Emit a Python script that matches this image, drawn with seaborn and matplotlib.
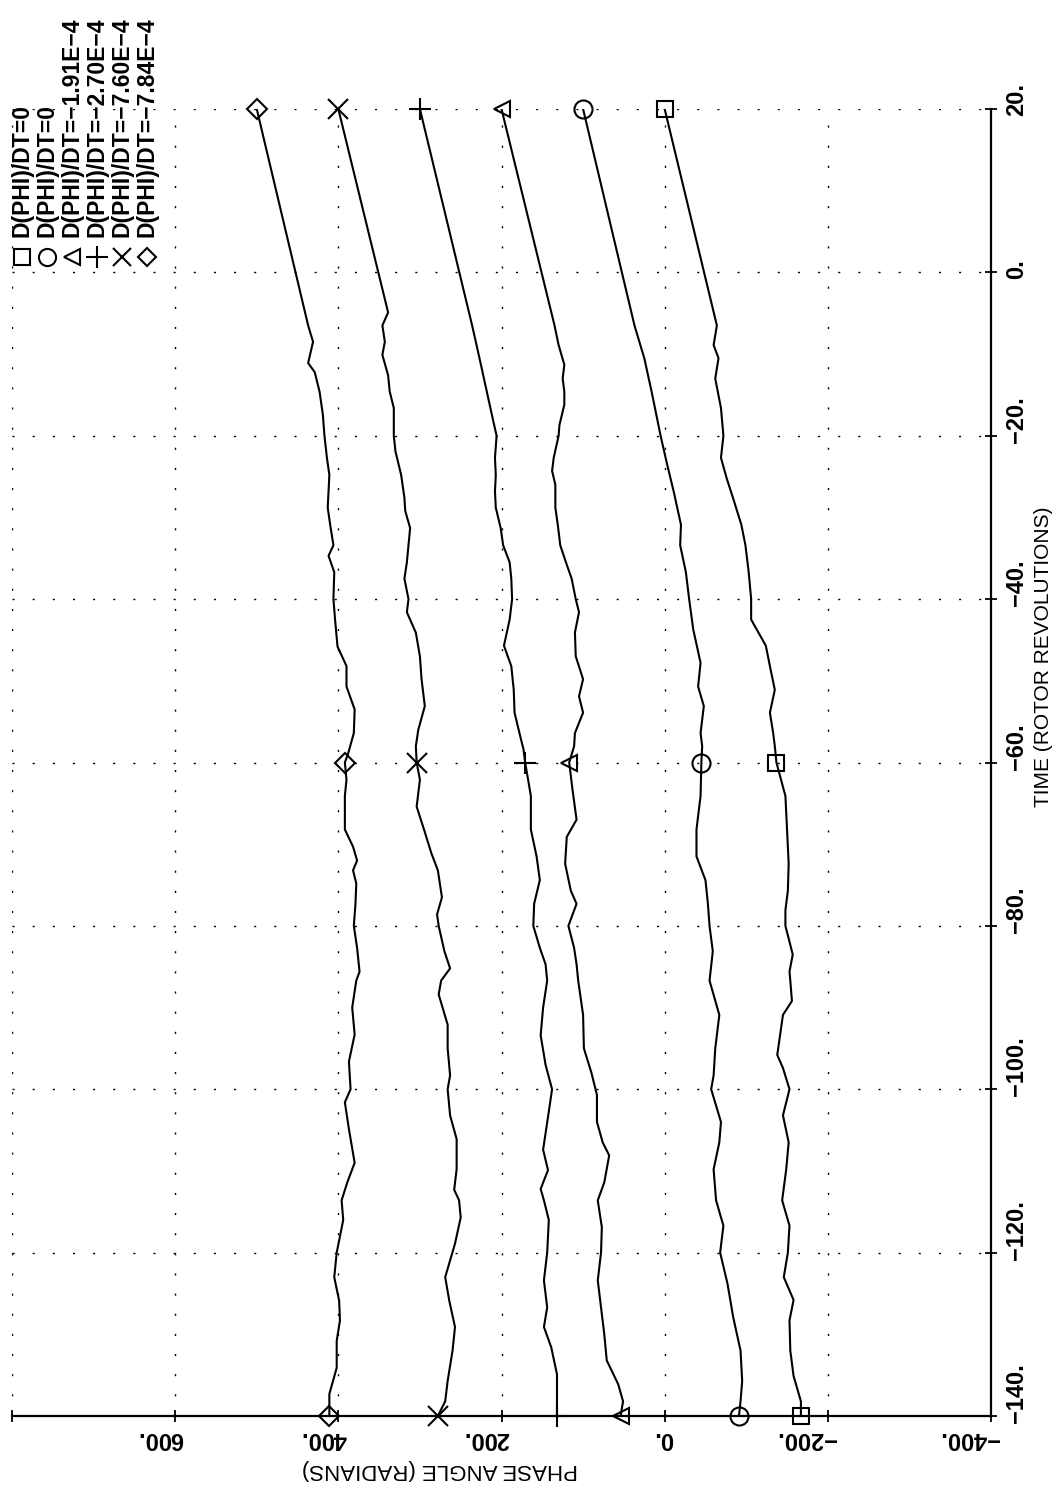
import matplotlib
matplotlib.use("Agg")
import matplotlib.pyplot as plt
import numpy as np
import pandas as pd
import seaborn as sns
from matplotlib.transforms import ScaledTranslation

# ---- phase-angle histories (time in rotor revolutions, phase in radians) ----
t_sq = [-140, -138.2, -135.1, -132, -128.3, -125.8, -123, -120, -116.7, -113.6,
        -109.8, -106.5, -103.2, -100, -97.4, -95.8, -90.9, -89.2, -86.7, -85.6,
        -83.5, -80, -78.1, -75.7, -72.4, -68.2, -64.1, -60, -58, -56.4, -53.9,
        -51.1, -48.2, -45.7, -42.5, -40, -36.7, -33.4, -30.9, -28, -25.2, -22.7,
        -20, -16.6, -13, -10.5, -8.9, -6.5, 20]
ph_sq = [-167, -167, -158, -154, -153, -158, -146, -151, -153, -144,
         -149, -152, -145, -153, -145, -138, -145, -156, -154, -153,
         -157, -148, -148, -151, -152, -150, -148, -137, -135, -133, -129,
         -135, -129, -124, -106, -106, -103, -99, -94, -85, -76, -69,
         -72, -69, -62, -66, -60, -64, 0]

t_ci = [-140, -138.2, -135.7, -132, -127.9, -123.8, -120, -116.7, -113.6, -109.8,
        -106.5, -104, -100, -98.3, -95, -90.9, -86.7, -83.1, -80, -77.3, -74.4,
        -71.5, -68.2, -64.1, -60, -58, -56.4, -53.1, -50.7, -47.8, -43.7, -40,
        -36.7, -33.4, -30.9, -26.8, -23.5, -20, -14.6, -10.5, -6.5, 20]
ph_ci = [-91, -93, -95, -93, -84, -77, -68, -72, -63, -60,
         -67, -69, -57, -60, -62, -67, -55, -59, -55, -53, -50,
         -39, -39, -44, -45, -46, -44, -48, -41, -44, -35, -30,
         -26, -19, -20, -11, -3, 5, 16, 25, 37, 100]

t_tr = [-140, -138.2, -136.1, -133.2, -130, -126.7, -123.4, -120, -116.9, -113.6,
        -111.4, -108.1, -106.5, -104, -100.7, -97.9, -95, -90.9, -86.7, -84.7,
        -82.7, -80, -77.3, -75.7, -72.4, -69.1, -67, -63.3, -60, -58, -56.4,
        -53.9, -51.9, -49.8, -47, -44.1, -41.6, -40, -37.5, -35.5, -33.4, -30.9,
        -28.8, -26, -24.3, -22.7, -20, -18.7, -16.2, -14.6, -13, -11.3, -8.9,
        -6.5, 20]
ph_tr = [54, 51, 57, 71, 74, 78, 82, 78, 77, 82,
         74, 68, 76, 83, 83, 90, 99, 100, 106, 108,
         111, 118, 108, 115, 122, 120, 108, 113, 117, 111, 110,
         100, 105, 100, 109, 110, 105, 109, 114, 121, 128, 131,
         134, 134, 138, 136, 130, 129, 123, 123, 125, 123, 130,
         135, 200]

t_pl = [-140, -134.9, -131.6, -129.1, -126.7, -123.4, -120, -116, -113.6, -112.2,
        -109.9, -107.4, -103.4, -100, -97, -93.4, -90, -86.7, -84.7, -82.7, -80,
        -77.3, -74.4, -71.5, -68.2, -64.1, -60, -58.4, -56.4, -53.9, -51.1,
        -48.2, -45.7, -42.5, -40, -37.5, -35.5, -33.4, -31.3, -28.8, -26.8,
        -24.8, -22.7, -20, -17.8, -14.6, -10.5, -6.5, 20]
ph_pl = [132, 132, 139, 148, 144, 148, 144, 142, 148, 152,
         143, 149, 143, 138, 146, 152, 149, 144, 146, 153, 161,
         160, 153, 157, 164, 164, 171, 173, 178, 184, 185,
         188, 197, 190, 187, 188, 190, 198, 201, 207, 208,
         207, 208, 206, 211, 218, 227, 236, 300]

t_x = [-140, -138.2, -135.7, -132, -129.1, -125.9, -123, -118.9, -115.7, -113.6,
       -112.3, -109.8, -106.1, -103.2, -100, -98.3, -95, -92.1, -88.4, -86.7,
       -85.2, -83.1, -80, -78.6, -76.5, -73.2, -71.1, -68.2, -65.4, -62.1, -60,
       -58, -56, -53.1, -49.8, -47, -44.1, -41.6, -40, -37.5, -35.5, -33.4,
       -31.3, -29.2, -27.6, -24.8, -21.9, -20, -16.6, -14.6, -12.6, -10.1, -8.5,
       -6.5, -4.9, 20]
ph_x = [278, 269, 266, 260, 257, 264, 269, 257, 250, 252,
        258, 255, 255, 263, 266, 263, 266, 266, 277, 274,
        263, 270, 277, 279, 273, 278, 286, 295, 304, 300, 304,
        305, 302, 294, 298, 300, 305, 316, 314, 319, 316, 314,
        312, 318, 319, 323, 330, 332, 332, 337, 339, 346, 343,
        346, 339, 400]

t_di = [-140, -137.3, -134.1, -130.8, -128.3, -125.9, -123, -120, -116, -113.6,
        -111.4, -109, -104.9, -101.6, -100, -96.6, -93.3, -90, -86.7, -85.6,
        -82.7, -80, -77.3, -74.8, -73.2, -72, -70.3, -68.2, -64.1, -62.1, -60,
        -58.9, -56.4, -53.5, -50.7, -48.2, -45.8, -42.5, -40, -36.7, -34.7,
        -33.4, -30.9, -28.8, -26.8, -24.8, -22.7, -20, -17.4, -14.6, -12.2,
        -11.1, -8.5, -6.5, 20]
ph_di = [411, 411, 402, 402, 398, 399, 405, 402, 394, 396,
         389, 380, 387, 392, 385, 387, 380, 383, 378, 374,
         377, 381, 379, 378, 382, 377, 382, 392, 392, 390, 392,
         388, 381, 380, 390, 390, 401, 404, 406, 405, 412,
         406, 410, 413, 412, 411, 414, 417, 419, 423, 429,
         437, 431, 437, 500]

legend_labels = ["D(PHI)/DT=0", "D(PHI)/DT=0", "D(PHI)/DT=\u22121.91E\u22124",
                 "D(PHI)/DT=\u22122.70E\u22124", "D(PHI)/DT=\u22127.60E\u22124",
                 "D(PHI)/DT=\u22127.84E\u22124"]
marker_times = [-140, -60, 20]

phase_ticks = [800, 600, 400, 200, 0, -200, -400]
phase_tick_labels = ["", "600.", "400.", "200.", "0.", "\u2212200.", "\u2212400."]
time_ticks = [-140, -120, -100, -80, -60, -40, -20, 0, 20]
time_tick_labels = ["\u2212140.", "\u2212120.", "\u2212100.", "\u221280.", "\u221260.",
                    "\u221240.", "\u221220.", "0.", "20."]

series = [
    (t_sq, ph_sq, "s", 12),
    (t_ci, ph_ci, "o", 13),
    (t_tr, ph_tr, "<", 12),
    (t_pl, ph_pl, "+", 16),
    (t_x, ph_x, "x", 14),
    (t_di, ph_di, "D", 10),
]

sns.set_theme(style="white")
plt.rcParams["font.family"] = ["Liberation Sans", "DejaVu Sans"]
plt.rcParams["axes.unicode_minus"] = True
plt.rcParams["text.color"] = "black"
plt.rcParams["axes.labelcolor"] = "black"
plt.rcParams["xtick.color"] = "black"
plt.rcParams["ytick.color"] = "black"

W, H = 1058, 1491
fig = plt.figure(figsize=(W / 100, H / 100), dpi=100)
fig.patch.set_facecolor("white")
ax = fig.add_axes([12 / W, 1 - 1416 / H, 979 / W, 1307 / H])
ax.set_facecolor("white")

for t, p, m, ms in series:
    df = pd.DataFrame({"time": t, "phase": p})
    sns.lineplot(data=df, x="phase", y="time", sort=False, estimator=None,
                 orient="y", color="black", linewidth=1.5, ax=ax, zorder=3)
    sel = df[df["time"].isin(marker_times)]
    ax.plot(sel["phase"], sel["time"], linestyle="none", marker=m, ms=ms,
            mfc="none", mec="black", mew=1.5, zorder=4, clip_on=False)

ax.set_xlim(800, -400)
ax.set_ylim(-140, 20)
ax.set_xticks(phase_ticks)
ax.set_xticklabels(phase_tick_labels)
ax.set_yticks(time_ticks)
ax.set_yticklabels(time_tick_labels)

ax.grid(True, color="black", linestyle=(0, (1.5, 13)), linewidth=1.0)
for side in ("left", "top"):
    ax.spines[side].set_visible(False)
for side in ("bottom", "right"):
    ax.spines[side].set_visible(True)
    ax.spines[side].set_color("black")
    ax.spines[side].set_linewidth(1.6)

ax.yaxis.tick_right()
ax.tick_params(axis="x", direction="inout", length=9, width=1.3, color="black",
               labelcolor="black", pad=12, labelsize=17, bottom=True)
ax.tick_params(axis="y", direction="inout", length=9, width=1.3, color="black",
               labelcolor="black", pad=14, labelsize=17, right=True, left=False)

shift_x = ScaledTranslation(0.08, 0, fig.dpi_scale_trans)
for tick in ax.xaxis.get_major_ticks():
    lab = tick.label1
    lab.set_rotation(180)
    lab.set_rotation_mode("anchor")
    lab.set_ha("left")
    lab.set_va("center")
    lab.set_fontweight("bold")
    lab.set_transform(lab.get_transform() + shift_x)

shift_y = ScaledTranslation(0, -0.07, fig.dpi_scale_trans)
for tick in ax.yaxis.get_major_ticks():
    lab = tick.label2
    lab.set_rotation(90)
    lab.set_rotation_mode("anchor")
    lab.set_ha("left")
    lab.set_va("center")
    lab.set_fontweight("bold")
    lab.set_transform(lab.get_transform() + shift_y)

ax.set_xlabel("PHASE ANGLE (RADIANS)", fontsize=16, rotation=180,
              ha="center", va="center", color="black")
ax.xaxis.set_label_coords(0.437, -0.0413)
ax.yaxis.set_label_position("right")
ax.set_ylabel("TIME (ROTOR REVOLUTIONS)", fontsize=15, rotation=90,
              ha="center", va="center", color="black")
ax.yaxis.set_label_coords(1.054, 0.581)

# key, written sideways in the upper-left corner
key_x = [0.0102, 0.0358, 0.0613, 0.0868, 0.1124, 0.1379]
for (t, p, m, ms), lab, kx in zip(series, legend_labels, key_x):
    ax.plot([kx], [0.8868], transform=ax.transAxes, linestyle="none", marker=m,
            ms=ms * 0.95, mfc="none", mec="black", mew=1.5, clip_on=False, zorder=5)
    ax.text(kx, 0.902, lab, transform=ax.transAxes, rotation=90,
            rotation_mode="anchor", ha="left", va="center", fontsize=16.5,
            fontweight="bold", color="black", zorder=5)

fig.savefig("out.png", dpi=100, facecolor="white")
